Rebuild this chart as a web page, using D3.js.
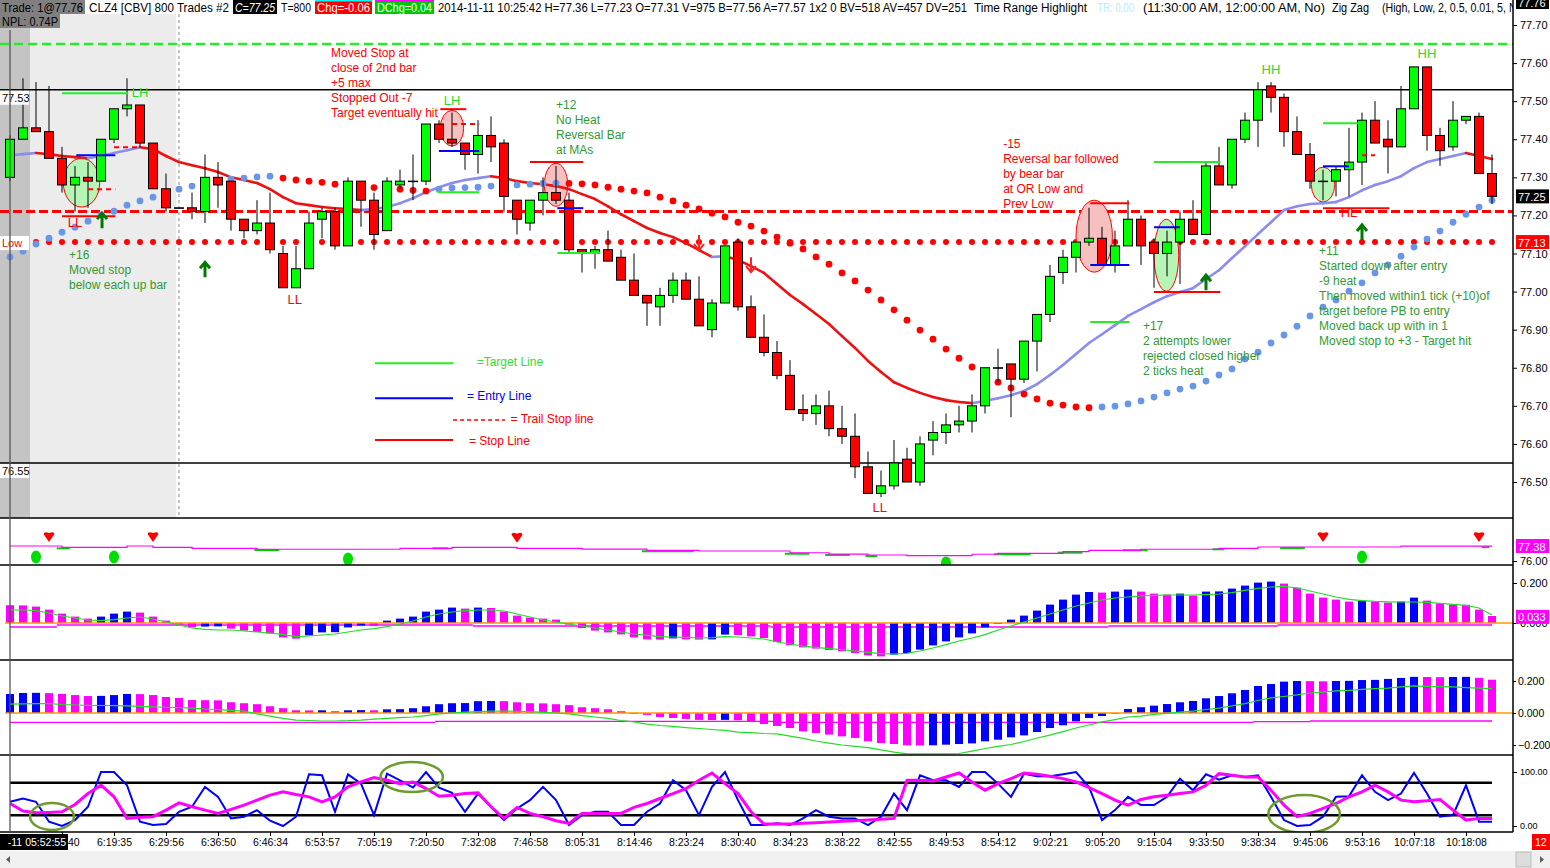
<!DOCTYPE html>
<html>
<head>
<meta charset="utf-8">
<script src="https://cdnjs.cloudflare.com/ajax/libs/d3/7.8.5/d3.min.js"></script>
<style>
  body { margin: 0; background: #ffffff; overflow: hidden; }
  svg text { font-family: "Liberation Sans", Arial, sans-serif; }
</style>
</head>
<body>
<div id="vis"></div>
<script>
// CLZ4, barras de 800 trades
const opens = [77.30,77.40,77.43,77.42,77.35,77.28,77.30,77.29,77.40,77.48,77.49,77.39,77.27,77.22,77.22,77.21,77.30,77.29,77.19,77.16,
  77.18,77.10,77.01,77.06,77.19,77.21,77.12,77.29,77.24,77.16,77.28,77.29,77.29,77.44,77.40,77.39,77.36,77.41,77.39,77.24,
  77.18,77.24,77.26,77.24,77.11,77.10,77.11,77.09,77.03,76.99,76.96,76.99,77.03,76.98,76.90,76.97,77.13,76.96,76.88,76.84,
  76.78,76.69,76.68,76.70,76.64,76.62,76.54,76.47,76.49,76.56,76.50,76.61,76.63,76.65,76.66,76.70,76.80,76.81,76.77,76.87,
  76.94,77.05,77.09,77.13,77.14,77.07,77.12,77.19,77.13,77.10,77.13,77.19,77.15,77.33,77.28,77.40,77.45,77.54,77.51,77.42,
  77.36,77.29,77.29,77.32,77.34,77.45,77.40,77.38,77.48,77.59,77.41,77.38,77.45,77.46,77.31];
const highs = [77.41,77.56,77.55,77.54,77.38,77.33,77.34,77.40,77.48,77.56,77.49,77.39,77.31,77.22,77.26,77.36,77.34,77.29,77.19,77.24,
  77.26,77.12,77.12,77.21,77.22,77.22,77.30,77.29,77.26,77.30,77.32,77.36,77.44,77.45,77.47,77.39,77.45,77.46,77.40,77.24,
  77.24,77.30,77.33,77.26,77.11,77.12,77.16,77.11,77.10,76.99,77.01,77.05,77.05,77.04,76.98,77.12,77.14,76.99,76.94,76.87,
  76.82,76.73,76.73,76.74,76.70,76.68,76.58,76.53,76.61,76.59,76.62,76.66,76.68,76.70,76.73,76.80,76.85,76.81,76.87,76.94,
  77.07,77.11,77.13,77.22,77.17,77.16,77.24,77.20,77.14,77.16,77.21,77.24,77.34,77.38,77.40,77.47,77.55,77.55,77.52,77.46,
  77.39,77.32,77.33,77.43,77.47,77.50,77.45,77.54,77.59,77.59,77.43,77.50,77.46,77.47,77.36];
const lows = [77.29,77.40,77.42,77.35,77.26,77.21,77.22,77.29,77.39,77.46,77.38,77.27,77.21,77.22,77.19,77.18,77.22,77.16,77.14,77.15,
  77.10,77.01,77.01,77.06,77.14,77.11,77.12,77.17,77.11,77.16,77.27,77.24,77.28,77.39,77.38,77.32,77.31,77.34,77.21,77.15,
  77.16,77.20,77.23,77.10,77.05,77.06,77.08,77.03,76.99,76.91,76.91,76.97,76.98,76.91,76.88,76.97,76.95,76.88,76.83,76.77,
  76.69,76.66,76.65,76.62,76.60,76.51,76.47,76.46,76.48,76.50,76.49,76.57,76.60,76.63,76.63,76.68,76.76,76.67,76.76,76.79,
  76.92,77.02,77.05,77.12,77.07,77.05,77.12,77.07,77.01,77.04,77.02,77.15,77.15,77.28,77.27,77.39,77.38,77.47,77.38,77.36,
  77.27,77.24,77.25,77.25,77.28,77.39,77.31,77.38,77.48,77.37,77.33,77.37,77.44,77.31,77.23];
const closes = [77.40,77.43,77.42,77.35,77.28,77.30,77.29,77.40,77.48,77.49,77.39,77.27,77.22,77.22,77.21,77.30,77.28,77.19,77.16,77.18,
  77.11,77.01,77.06,77.18,77.21,77.12,77.29,77.24,77.15,77.29,77.29,77.29,77.44,77.40,77.39,77.36,77.41,77.38,77.25,77.19,
  77.24,77.26,77.24,77.11,77.10,77.11,77.08,77.03,76.99,76.97,76.99,77.03,76.98,76.91,76.97,77.12,76.96,76.88,76.84,76.78,
  76.69,76.68,76.70,76.64,76.62,76.54,76.47,76.49,76.55,76.50,76.60,76.63,76.65,76.66,76.70,76.80,76.80,76.77,76.87,76.94,
  77.04,77.09,77.13,77.14,77.07,77.12,77.19,77.12,77.10,77.13,77.19,77.15,77.33,77.28,77.40,77.45,77.53,77.51,77.42,77.36,
  77.29,77.29,77.32,77.34,77.45,77.39,77.38,77.48,77.59,77.41,77.37,77.45,77.46,77.31,77.25];

// Media movil (rojo cuando baja, lila cuando sube)
const maLine = [77.358,77.361,77.364,77.361,77.356,77.353,77.350,77.356,77.364,77.371,77.379,77.374,77.356,77.340,77.332,77.324,77.314,77.300,77.293,77.285,
  77.269,77.248,77.232,77.227,77.222,77.219,77.217,77.214,77.217,77.222,77.232,77.245,77.261,77.274,77.285,77.293,77.298,77.303,77.298,77.290,
  77.285,77.282,77.277,77.269,77.256,77.243,77.224,77.203,77.185,77.167,77.154,77.143,77.127,77.109,77.091,77.093,77.083,77.067,77.049,77.020,
  76.991,76.967,76.941,76.915,76.883,76.852,76.818,76.789,76.762,76.747,76.734,76.723,76.715,76.710,76.707,76.713,76.720,76.728,76.739,76.757,
  76.781,76.807,76.836,76.865,76.888,76.912,76.936,76.954,76.972,76.988,76.999,77.009,77.033,77.056,77.088,77.119,77.151,77.182,77.214,77.224,
  77.230,77.232,77.235,77.248,77.266,77.280,77.290,77.303,77.324,77.340,77.348,77.356,77.364,77.356,77.348];

// Linea punteada (rojo cuando baja, azul cuando sube)
const dotLine = [77.091,77.106,77.125,77.140,77.156,77.169,77.185,77.201,77.211,77.227,77.238,77.248,77.259,77.269,77.277,77.285,77.287,77.295,77.298,77.301,
  77.303,77.298,77.293,77.290,77.287,77.282,77.280,77.274,77.273,77.272,77.269,77.266,77.264,77.269,77.272,77.273,77.274,77.277,77.278,77.280,
  77.282,77.284,77.285,77.284,77.283,77.280,77.274,77.269,77.264,77.259,77.248,77.238,77.227,77.217,77.206,77.196,77.182,77.172,77.159,77.143,
  77.127,77.112,77.091,77.072,77.049,77.028,77.004,76.978,76.952,76.925,76.899,76.875,76.849,76.825,76.802,76.781,76.762,76.747,76.731,76.718,
  76.707,76.702,76.697,76.695,76.697,76.699,76.705,76.713,76.723,76.734,76.744,76.752,76.765,76.781,76.797,76.823,76.841,76.865,76.886,76.909,
  76.936,76.959,76.978,77.001,77.023,77.049,77.070,77.093,77.117,77.138,77.159,77.182,77.203,77.222,77.240];

// Niveles horizontales
const LEVEL_TARGET = 77.65;
const LEVEL_OR_HIGH = 77.53;
const LEVEL_TRAIL = 77.21;
const LEVEL_LOW = 77.13;
const LEVEL_OR_LOW = 76.55;

// Panel 1
const p1Line = [77.38,77.38,77.38,77.38,77.26,77.26,77.26,77.26,77.26,77.38,77.38,77.26,77.26,77.26,77.17,77.17,77.17,77.17,77.17,77.08,
  77.08,77.08,77.08,77.08,77.08,77.08,77.08,77.08,77.08,77.08,77.17,77.17,77.17,77.17,77.26,77.26,77.26,77.26,77.26,77.17,
  77.17,77.17,77.17,77.17,77.10,77.10,77.10,77.10,77.10,76.98,76.98,76.98,76.98,76.92,76.92,76.92,76.92,76.92,76.92,76.92,
  76.76,76.76,76.76,76.64,76.64,76.64,76.55,76.55,76.55,76.49,76.49,76.49,76.49,76.49,76.62,76.62,76.71,76.71,76.71,76.71,
  76.71,76.86,76.86,76.98,76.98,76.98,76.98,77.08,77.08,77.08,77.08,77.08,77.08,77.17,77.17,77.17,77.29,77.29,77.29,77.29,
  77.29,77.29,77.29,77.29,77.29,77.29,77.29,77.36,77.36,77.36,77.36,77.36,77.36,77.36,77.36];
const p1Green = [[3.6,4.6,77.26],[18.8,20.7,77.10],[32.5,33.7,77.26],[48.6,52.6,76.98],[59.6,61.5,76.76],[62.7,64.6,76.64],
  [65.8,66.7,76.55],[75.7,78.5,76.71],[80.6,82.5,76.86],[85.6,87.5,77.08],[92.5,93.4,77.17],[97.7,99.6,77.29],[113.2,113.8,77.36]];
const p1Sell = [[3,78.21],[11,78.21],[39,78.15],[101,78.21],[113,78.21]];
const p1Buy = [[2,76.37],[8,76.37],[26,76.18],[72,75.82],[104,76.37]];

// Panel 2 (histograma + senal)
const p2Hist = [0.089,0.088,0.082,0.067,0.047,0.032,0.022,0.032,0.047,0.057,0.052,0.032,0.012,-0.008,-0.022,-0.018,-0.017,-0.028,-0.038,-0.045,
  -0.053,-0.072,-0.078,-0.062,-0.047,-0.046,-0.022,-0.013,-0.015,0.012,0.022,0.032,0.057,0.067,0.077,0.072,0.077,0.075,0.057,0.037,
  0.027,0.022,0.017,-0.008,-0.025,-0.038,-0.047,-0.057,-0.072,-0.082,-0.083,-0.077,-0.082,-0.083,-0.082,-0.058,-0.060,-0.067,-0.075,-0.095,
  -0.112,-0.122,-0.128,-0.135,-0.142,-0.150,-0.162,-0.167,-0.158,-0.150,-0.133,-0.112,-0.092,-0.072,-0.052,-0.022,-0.005,0.017,0.037,0.062,
  0.092,0.117,0.142,0.155,0.152,0.157,0.167,0.157,0.147,0.142,0.147,0.137,0.157,0.158,0.172,0.187,0.202,0.207,0.197,0.177,
  0.147,0.127,0.117,0.107,0.112,0.107,0.102,0.107,0.127,0.112,0.097,0.092,0.091,0.067,0.035];
const p2Signal = [0.065,0.065,0.062,0.050,0.035,0.025,0.015,0.012,0.017,0.025,0.030,0.020,0.005,-0.010,-0.025,-0.032,-0.035,-0.035,-0.040,-0.045,
  -0.050,-0.058,-0.068,-0.065,-0.060,-0.055,-0.045,-0.035,-0.028,-0.018,-0.005,0.010,0.030,0.045,0.055,0.062,0.065,0.065,0.060,0.045,
  0.030,0.015,0.005,-0.005,-0.015,-0.025,-0.035,-0.045,-0.055,-0.062,-0.068,-0.070,-0.072,-0.075,-0.073,-0.068,-0.070,-0.075,-0.080,-0.095,
  -0.105,-0.115,-0.122,-0.128,-0.133,-0.140,-0.147,-0.153,-0.155,-0.152,-0.140,-0.125,-0.108,-0.090,-0.075,-0.058,-0.035,-0.015,0.005,0.025,
  0.045,0.065,0.085,0.100,0.115,0.125,0.130,0.135,0.138,0.140,0.140,0.140,0.142,0.145,0.152,0.163,0.173,0.180,0.183,0.175,
  0.160,0.145,0.130,0.118,0.112,0.108,0.106,0.105,0.105,0.103,0.098,0.093,0.088,0.075,0.040];
const p2Level = [[0,3.6,-0.020],[3.6,35.6,-0.010],[35.6,58.5,-0.015],[58.5,84.5,-0.020],[84.5,97.5,-0.015],[97.5,114,-0.010]];

// Panel 3 (histograma + senal)
const p3Hist = [0.119,0.125,0.126,0.124,0.119,0.112,0.106,0.107,0.112,0.119,0.118,0.112,0.100,0.094,0.081,0.080,0.079,0.067,0.061,0.055,
  0.042,0.030,0.017,0.016,0.017,0.011,0.017,0.018,0.017,0.023,0.024,0.030,0.042,0.055,0.061,0.062,0.074,0.075,0.074,0.067,
  0.061,0.060,0.055,0.049,0.036,0.030,0.023,0.011,-0.006,-0.012,-0.025,-0.031,-0.037,-0.043,-0.044,-0.043,-0.045,-0.056,-0.069,-0.081,
  -0.094,-0.115,-0.125,-0.135,-0.146,-0.156,-0.177,-0.188,-0.194,-0.202,-0.203,-0.202,-0.198,-0.194,-0.190,-0.177,-0.167,-0.152,-0.140,-0.119,
  -0.094,-0.077,-0.052,-0.031,-0.019,-0.004,0.025,0.036,0.046,0.056,0.067,0.075,0.092,0.106,0.123,0.144,0.169,0.181,0.196,0.200,
  0.199,0.198,0.200,0.201,0.206,0.207,0.213,0.219,0.226,0.225,0.224,0.225,0.226,0.220,0.208];
const p3Signal = [0.056,0.057,0.059,0.058,0.053,0.050,0.048,0.047,0.046,0.044,0.042,0.038,0.036,0.033,0.031,0.025,0.021,0.017,0.012,-0.006,
  -0.019,-0.034,-0.044,-0.047,-0.050,-0.050,-0.048,-0.044,-0.038,-0.034,-0.029,-0.025,-0.016,-0.006,0.000,0.006,0.009,0.012,0.012,0.011,
  0.009,0.004,0.000,-0.006,-0.016,-0.025,-0.034,-0.047,-0.056,-0.069,-0.078,-0.084,-0.091,-0.097,-0.103,-0.109,-0.119,-0.123,-0.128,-0.131,
  -0.144,-0.159,-0.175,-0.188,-0.200,-0.208,-0.216,-0.231,-0.244,-0.256,-0.256,-0.256,-0.256,-0.253,-0.238,-0.222,-0.209,-0.197,-0.178,-0.156,
  -0.138,-0.116,-0.094,-0.075,-0.056,-0.041,-0.025,-0.019,-0.009,-0.002,0.006,0.012,0.022,0.031,0.044,0.059,0.078,0.094,0.103,0.113,
  0.125,0.131,0.138,0.142,0.148,0.152,0.156,0.163,0.169,0.167,0.165,0.163,0.159,0.156,0.152];
const p3Level = [[0,32.7,-0.058],[32.7,59.2,-0.052],[59.2,95.6,-0.058],[95.6,100,-0.054],[100,114,-0.050]];

// Panel 4 (estocastico)
const stochK = [44.8,50.9,44.8,8.0,0,11.0,35.6,100,100,75.5,8.0,1.8,3.7,26.4,35.6,72.4,54.0,14.1,17.2,29.4,
  9.8,0,17.2,95.7,93.9,26.4,95.7,78.5,20.2,96.9,84.7,71.2,100,71.2,61.3,26.4,60.1,35.6,11.0,32.5,
  47.9,72.4,47.9,1.8,20.2,26.4,26.4,1.8,1.8,26.4,41.7,84.7,66.3,20.2,72.4,100,47.9,1.8,1.8,4.9,
  1.8,14.1,29.4,17.2,14.1,14.1,1.8,17.2,60.1,29.4,93.9,84.7,84.7,72.4,100,100,78.5,54.0,96.9,92.0,
  92.0,95.7,100,72.4,11.0,29.4,54.0,38.7,38.7,54.0,87.7,66.3,95.7,85.9,93.9,90.8,93.9,54.0,11.0,0,
  1.8,17.2,54.0,55.2,93.9,63.2,47.9,60.1,98.2,60.1,17.2,20.2,75.5,8.0,8.0];
const stochD = [41.7,27.6,24.5,25.2,26.4,39.9,60.1,75.5,54.0,14.1,16.0,17.2,29.4,42.9,35.6,29.4,23.3,30.7,38.7,47.9,
  57.1,63.2,58.3,54.0,44.8,54.0,72.4,81.6,89.6,84.7,78.5,81.6,69.3,55.2,57.1,60.1,61.3,35.6,14.1,34.4,
  23.3,17.2,9.8,4.9,23.3,23.3,23.3,23.3,34.4,41.7,50.9,60.1,69.3,84.7,98.2,78.5,60.1,26.4,3.7,3.7,
  3.7,4.9,6.1,7.4,8.6,9.8,11.0,12.3,14.1,84.7,84.7,83.4,90.8,98.2,81.6,66.3,78.5,87.7,98.2,95.7,
  92.0,87.7,81.6,71.2,60.1,47.9,38.7,49.1,54.0,57.1,60.1,63.2,75.5,96.9,93.9,90.8,90.8,66.3,38.7,17.2,
  23.3,32.5,41.7,54.0,63.2,75.5,63.2,47.9,44.8,46.6,49.1,29.4,11.0,14.1,14.1];
const STOCH_HIGH = 80, STOCH_LOW = 20;
const stochOvals = [[1.54,4.92,42.6,-7.4],[28.5,33.3,118.5,63.0],[96.8,102.3,57.4,-13.0]];

// Lineas de los trades
const targetLines = [[4,9.1,77.521],[32.9,36.1,77.261],[42.1,45.4,77.101],[83.1,86.1,76.920],[88,93.1,77.340],[101,103.7,77.442]];
const entryLines = [[5.1,8.1,77.358],[33,36.1,77.369],[42.1,44.1,77.219],[83.1,86.1,77.070],[88,90,77.169],[101,103,77.329]];
const stopLines = [[4,8.1,77.198],[33.1,35.1,77.479],[40,44.1,77.340],[83.1,86.1,77.232],[88,93.1,76.999],[101,106.1,77.219]];
const trailLines = [[6,8.1,77.269],[8,10,77.379],[34,36.1,77.440],[104,105,77.358]];
const tradeOvals = [[4.1,6.9,77.350,77.222,"win"],[33.1,34.9,77.476,77.382,"loss"],[41.1,42.9,77.337,77.224,"loss"],
  [82,84.8,77.240,77.051,"loss"],[88,89.9,77.190,77.001,"win"],[100.1,101.9,77.327,77.235,"win"]];
const upArrows = [[7.08,77.206],[15,77.077],[92,77.043],[104,77.175]];
const downArrows = [[53,77.109],[57,77.051]];
const swingLabels = [["LH",10,77.51,"hi"],["LL",5,77.169,"lo"],["LL",21.9,76.967,"lo"],["LH",34,77.49,"hi"],
  ["LL",66.9,76.421,"lo"],["HH",97,77.571,"hi"],["HH",109,77.613,"hi"],["HL",103,77.196,"lo"]];

const notes = [
  {i: 24.7, p: 77.615, color: "red", lines: ["Moved Stop at", "close of 2nd bar", "+5 max", "Stopped Out -7", "Target eventually hit"]},
  {i: 4.54, p: 77.085, color: "green", lines: ["+16", "Moved stop", "below each up bar"]},
  {i: 42, p: 77.479, color: "green", lines: ["+12", "No Heat", "Reversal Bar", "at MAs"]},
  {i: 76.4, p: 77.377, color: "red", lines: ["-15", "Reversal bar followed", "by bear bar", "at OR Low and", "Prev Low"]},
  {i: 87.15, p: 76.899, color: "green", lines: ["+17", "2 attempts lower", "rejected closed higher", "2 ticks heat"]},
  {i: 100.7, p: 77.096, color: "green", lines: ["+11", "Started down after entry", "-9 heat", "Then moved within1 tick (+10)of",
    "target before PB to entry", "Moved back up with in 1", "Moved stop to +3 - Target hit"]}
];
const legendItems = [
  {kind: "target", i1: 28.08, i2: 34.08, p: 76.812, ti: 35.9, tp: 76.805, label: "=Target Line"},
  {kind: "entry", i1: 28.08, i2: 34.08, p: 76.720, ti: 35.15, tp: 76.716, label: "= Entry Line"},
  {kind: "trail", i1: 34.08, i2: 38.08, p: 76.663, ti: 38.5, tp: 76.655, label: "= Trail Stop line"},
  {kind: "stop", i1: 28.08, i2: 34.08, p: 76.610, ti: 35.3, tp: 76.597, label: "= Stop Line"}
];

// Ejes
const priceTicks = [76.50,76.60,76.70,76.80,76.90,77.00,77.10,77.20,77.30,77.40,77.50,77.60,77.70];
const timeTickBars = [4,8,12,16,20,24,28,32,36,40,44,48,52,56,60,64,68,72,76,80,84,88,92,96,100,104,108,112];
const timeLabels = ["6:11:40","6:19:35","6:29:56","6:36:50","6:46:34","6:53:57","7:05:19","7:20:50","7:32:08","7:46:58",
  "8:05:31","8:14:46","8:23:24","8:30:40","8:34:23","8:38:22","8:42:55","8:49:53","8:54:12","9:02:21",
  "9:05:20","9:15:04","9:33:50","9:38:34","9:45:06","9:53:16","10:07:18","10:18:08"];

const headerRow1 = [
  {x: 0, w: 85, bg: "#808080", text: "Trade: 1@77.76"},
  {x: 87, w: 144, text: "CLZ4 [CBV]  800 Trades  #2"},
  {x: 233, w: 44, bg: "#000000", color: "#ffffff", italic: true, text: "C=77.25"},
  {x: 279, w: 34, text: "T=800"},
  {x: 315, w: 57, bg: "#ff0000", color: "#ffffff", top: "#00ffff", text: "Chg=-0.06"},
  {x: 375, w: 59, bg: "#00c800", color: "#ffffff", top: "#ff00ff", text: "DChg=0.04"},
  {x: 436, w: 533, text: "2014-11-11 10:25:42 H=77.36 L=77.23 O=77.31 V=975 B=77.56 A=77.57 1x2 0 BV=518 AV=457 DV=251"},
  {x: 972, w: 117, text: "Time Range Highlight"},
  {x: 1095, w: 41, color: "#b8ecff", text: "TR: 0.00"},
  {x: 1141, w: 186, text: "(11:30:00 AM, 12:00:00 AM, No)"},
  {x: 1330, w: 41, text: "Zig Zag"},
  {x: 1380, w: 148, text: "(High, Low, 2, 0.5, 0.01, 5, No)"}
];

const WIDTH = 1550;
const HEIGHT = 868;
const AXIS_X = 1513;
const UP = "#00ff00", DOWN = "#ff0000";
const TXT_GREEN = "#339933", LIME = "#22dd22";
const MAGENTA = "#ff00ff", BLUE = "#0000ff";

const SVG = d3.select("#vis").append("svg").attr("width", WIDTH).attr("height", HEIGHT);

const x = d3.scaleLinear().domain([0, 114]).range([10, 1492]);
const yMain = d3.scaleLinear().domain([76.5, 77.7]).range([482, 25]);
const y1 = d3.scaleLinear().domain([76.0, 77.38]).range([561, 546]);
const y2 = d3.scaleLinear().domain([0, 0.2]).range([623, 583]);
const y3 = d3.scaleLinear().domain([0, 0.2]).range([713, 681]);
const y4 = d3.scaleLinear().domain([0, 100]).range([826, 772]);

const PANELS = [["main", 0, 518], ["p1", 518, 565], ["p2", 565, 660], ["p3", 660, 755], ["p4", 755, 832]];
const defs = SVG.append("defs");
PANELS.forEach(([id, top, bottom]) => {
  defs.append("clipPath").attr("id", "clip-" + id)
    .append("rect").attr("x", 0).attr("y", top).attr("width", AXIS_X).attr("height", bottom - top);
});
defs.append("clipPath").attr("id", "clip-head")
  .append("rect").attr("x", 0).attr("y", 0).attr("width", AXIS_X).attr("height", 30);

const isUp = (vals, i) => i === 0 ? vals[1] > vals[0] : vals[i] > vals[i - 1];

function crearPanelPrincipal() {
  const g = SVG.append("g").attr("clip-path", "url(#clip-main)");

  // Time range highlight
  g.append("rect").attr("x", 0).attr("y", 14).attr("width", 30).attr("height", 504).attr("fill", "#c4c4c4");
  g.append("rect").attr("x", 30).attr("y", 14).attr("width", 146).attr("height", 504).attr("fill", "#ececec");
  g.append("line").attr("x1", 179).attr("x2", 179).attr("y1", 14).attr("y2", 518)
    .attr("stroke", "#888").attr("stroke-dasharray", "3,3");

  // niveles
  g.append("line").attr("x1", 0).attr("x2", AXIS_X).attr("y1", yMain(LEVEL_TARGET)).attr("y2", yMain(LEVEL_TARGET))
    .attr("stroke", "#22ee22").attr("stroke-width", 2.5).attr("stroke-dasharray", "9,5");
  g.append("line").attr("x1", 0).attr("x2", AXIS_X).attr("y1", yMain(LEVEL_OR_HIGH)).attr("y2", yMain(LEVEL_OR_HIGH))
    .attr("stroke", "#000").attr("stroke-width", 1.5);
  g.append("line").attr("x1", 0).attr("x2", AXIS_X).attr("y1", yMain(LEVEL_OR_LOW)).attr("y2", yMain(LEVEL_OR_LOW))
    .attr("stroke", "#000").attr("stroke-width", 1.5);
  g.append("line").attr("x1", 0).attr("x2", AXIS_X).attr("y1", yMain(LEVEL_TRAIL)).attr("y2", yMain(LEVEL_TRAIL))
    .attr("stroke", "#ff0000").attr("stroke-width", 3).attr("stroke-dasharray", "9,4");
  g.selectAll("circle.low").data(d3.range(2, 115)).join("circle").attr("class", "low")
    .attr("cx", d => x(d)).attr("cy", yMain(LEVEL_LOW)).attr("r", 3).attr("fill", "#ff0000");

  // ovalos de los trades
  g.selectAll("ellipse.trade").data(tradeOvals).join("ellipse").attr("class", "trade")
    .attr("cx", d => (x(d[0]) + x(d[1])) / 2).attr("cy", d => (yMain(d[2]) + yMain(d[3])) / 2)
    .attr("rx", d => (x(d[1]) - x(d[0])) / 2).attr("ry", d => (yMain(d[3]) - yMain(d[2])) / 2)
    .attr("fill", d => d[4] === "win" ? "#b6f5b6" : "#f7c0c0").attr("stroke", "#ff0000").attr("stroke-width", 1);

  // media movil por segmentos
  g.selectAll("line.ma").data(d3.pairs(d3.range(maLine.length))).join("line").attr("class", "ma")
    .attr("x1", d => x(d[0])).attr("y1", d => yMain(maLine[d[0]]))
    .attr("x2", d => x(d[1])).attr("y2", d => yMain(maLine[d[1]]))
    .attr("stroke", d => maLine[d[1]] < maLine[d[0]] ? "#ee1111" : "#8c8cf0")
    .attr("stroke-width", 2.6).attr("stroke-linecap", "round");

  // puntos
  g.selectAll("circle.dot").data(dotLine).join("circle").attr("class", "dot")
    .attr("cx", (d, i) => x(i)).attr("cy", d => yMain(d)).attr("r", 3.4)
    .attr("fill", (d, i) => isUp(dotLine, i) ? "#6a96e8" : "#ff0000");

  // velas
  const bars = opens.map((o, i) => ({i, o, h: highs[i], l: lows[i], c: closes[i]}));
  g.selectAll("g.candle").data(bars).join(enter => {
    const gc = enter.append("g").attr("class", "candle");
    gc.append("line")
      .attr("x1", d => x(d.i)).attr("x2", d => x(d.i))
      .attr("y1", d => yMain(d.h)).attr("y2", d => yMain(d.l))
      .attr("stroke", "#000").attr("stroke-width", 1);
    gc.append("rect")
      .attr("x", d => x(d.i) - 4.5).attr("width", 9)
      .attr("y", d => yMain(Math.max(d.o, d.c)))
      .attr("height", d => Math.max(0.5, Math.abs(yMain(d.o) - yMain(d.c))))
      .attr("fill", d => d.c > d.o ? UP : d.c < d.o ? DOWN : "#000")
      .attr("stroke", "#000").attr("stroke-width", 1);
    return gc;
  });

  // lineas de trade
  const seg = (cls, data, color, dash, width) => g.selectAll("line." + cls).data(data).join("line").attr("class", cls)
    .attr("x1", d => x(d[0])).attr("x2", d => x(d[1])).attr("y1", d => yMain(d[2])).attr("y2", d => yMain(d[2]))
    .attr("stroke", color).attr("stroke-width", width).attr("stroke-dasharray", dash);
  seg("target", targetLines, "#22ee22", null, 2);
  seg("entry", entryLines, "#0000ff", null, 2);
  seg("stop", stopLines, "#ff0000", null, 2);
  seg("trail", trailLines, "#ff0000", "5,4", 2);

  // flechas
  const arrow = (d, up) => {
    const px = x(d[0]), py = yMain(d[1]), s = up ? 1 : -1;
    return `M${px},${py} L${px},${py + s * 15} M${px - 5},${py + s * 6} L${px},${py} L${px + 5},${py + s * 6}`;
  };
  g.selectAll("path.up").data(upArrows).join("path").attr("class", "up")
    .attr("d", d => arrow(d, true)).attr("stroke", "#007a00").attr("stroke-width", 3).attr("fill", "none");
  g.selectAll("path.down").data(downArrows).join("path").attr("class", "down")
    .attr("d", d => arrow(d, false)).attr("stroke", "#ff2020").attr("stroke-width", 2).attr("fill", "none");

  // etiquetas zig zag
  g.selectAll("text.swing").data(swingLabels).join("text").attr("class", "swing")
    .attr("x", d => x(d[1])).attr("y", d => yMain(d[2])).attr("text-anchor", "middle")
    .attr("font-size", 13).attr("fill", d => d[3] === "hi" ? LIME : "#ff0000").text(d => d[0]);

  // notas
  g.selectAll("text.note").data(notes).join(enter => {
    const t = enter.append("text").attr("class", "note")
      .attr("x", d => x(d.i)).attr("y", d => yMain(d.p)).attr("font-size", 12)
      .attr("fill", d => d.color === "red" ? "#ff0000" : TXT_GREEN);
    t.selectAll("tspan").data(d => d.lines.map(l => ({l, xx: x(d.i)}))).join("tspan")
      .attr("x", d => d.xx).attr("dy", (d, k) => k === 0 ? 0 : 15).text(d => d.l);
    return t;
  });

  // leyenda
  const legColor = {target: "#22ee22", entry: "#0000ff", trail: "#ff0000", stop: "#ff0000"};
  const legText = {target: "#33dd33", entry: "#0000ff", trail: "#ff0000", stop: "#ff0000"};
  g.selectAll("line.leg").data(legendItems).join("line").attr("class", "leg")
    .attr("x1", d => x(d.i1)).attr("x2", d => x(d.i2)).attr("y1", d => yMain(d.p)).attr("y2", d => yMain(d.p))
    .attr("stroke", d => legColor[d.kind]).attr("stroke-width", d => d.kind === "trail" ? 1.5 : 2)
    .attr("stroke-dasharray", d => d.kind === "trail" ? "4,3" : null);
  g.selectAll("text.leg").data(legendItems).join("text").attr("class", "leg")
    .attr("x", d => x(d.ti)).attr("y", d => yMain(d.tp)).attr("font-size", 12)
    .attr("fill", d => legText[d.kind]).text(d => d.label);

  // etiquetas a la izquierda
  const leftTag = (p, txt, color, dy) => {
    g.append("rect").attr("x", 0).attr("y", yMain(p) + dy).attr("width", 29).attr("height", 14).attr("fill", "#fff");
    g.append("text").attr("x", 2).attr("y", yMain(p) + dy + 11).attr("font-size", 11).attr("fill", color).text(txt);
  };
  leftTag(LEVEL_OR_HIGH, "77.53", "#000", 1);
  leftTag(LEVEL_LOW, "Low", "#ff0000", -6);
  leftTag(LEVEL_OR_LOW, "76.55", "#000", 1);
}

function crearPanel1() {
  const g = SVG.append("g").attr("clip-path", "url(#clip-p1)");
  const line = d3.line().x((d, i) => x(i)).y(d => y1(d)).curve(d3.curveStepAfter);
  g.selectAll("line.g1").data(p1Green).join("line").attr("class", "g1")
    .attr("x1", d => x(d[0])).attr("x2", d => x(d[1])).attr("y1", d => y1(d[2]) + 1).attr("y2", d => y1(d[2]) + 1)
    .attr("stroke", "#00cc00").attr("stroke-width", 2);
  g.append("path").datum(p1Line).attr("d", line).attr("fill", "none").attr("stroke", MAGENTA).attr("stroke-width", 1.2);
  g.selectAll("path.sell").data(p1Sell).join("path").attr("class", "sell")
    .attr("d", d => { const px = x(d[0]), py = y1(d[1]);
      return `M${px - 5.5},${py - 3} Q${px - 5},${py - 6} ${px},${py - 4} Q${px + 5},${py - 6} ${px + 5.5},${py - 3} L${px},${py + 5} Z`; })
    .attr("fill", "#ff0000");
  g.selectAll("ellipse.buy").data(p1Buy).join("ellipse").attr("class", "buy")
    .attr("cx", d => x(d[0])).attr("cy", d => y1(d[1])).attr("rx", 5).attr("ry", 6.5).attr("fill", "#00dd00");
}

function crearHistograma(id, vals, signal, levels, yScale) {
  const g = SVG.append("g").attr("clip-path", `url(#clip-${id})`);
  g.selectAll("line.lvl").data(levels).join("line").attr("class", "lvl")
    .attr("x1", d => x(d[0])).attr("x2", d => x(d[1])).attr("y1", d => yScale(d[2])).attr("y2", d => yScale(d[2]))
    .attr("stroke", MAGENTA).attr("stroke-width", 1.3);
  g.selectAll("rect.hist").data(vals).join("rect").attr("class", "hist")
    .attr("x", (d, i) => x(i) - 4).attr("width", 8)
    .attr("y", d => Math.min(yScale(d), yScale(0))).attr("height", d => Math.abs(yScale(d) - yScale(0)))
    .attr("fill", (d, i) => isUp(vals, i) ? BLUE : MAGENTA);
  g.append("line").attr("x1", 5).attr("x2", AXIS_X).attr("y1", yScale(0)).attr("y2", yScale(0))
    .attr("stroke", "#ff9900").attr("stroke-width", 1.5);
  g.append("path").datum(signal)
    .attr("d", d3.line().x((d, i) => x(i)).y(d => yScale(d)))
    .attr("fill", "none").attr("stroke", "#22dd22").attr("stroke-width", 1.2);
}

function crearEstocastico() {
  const g = SVG.append("g").attr("clip-path", "url(#clip-p4)");
  [STOCH_HIGH, STOCH_LOW].forEach(v => {
    g.append("line").attr("x1", x(0)).attr("x2", x(114)).attr("y1", y4(v)).attr("y2", y4(v))
      .attr("stroke", "#000").attr("stroke-width", 2.5);
  });
  const line = d3.line().x((d, i) => x(i)).y(d => y4(d));
  g.append("path").datum(stochK).attr("d", line).attr("fill", "none").attr("stroke", BLUE).attr("stroke-width", 2);
  g.append("path").datum(stochD).attr("d", line).attr("fill", "none").attr("stroke", MAGENTA).attr("stroke-width", 3);
  g.selectAll("ellipse.ring").data(stochOvals).join("ellipse").attr("class", "ring")
    .attr("cx", d => (x(d[0]) + x(d[1])) / 2).attr("cy", d => (y4(d[2]) + y4(d[3])) / 2)
    .attr("rx", d => (x(d[1]) - x(d[0])) / 2).attr("ry", d => (y4(d[3]) - y4(d[2])) / 2)
    .attr("fill", "none").attr("stroke", "#6e9b2f").attr("stroke-width", 2.5);
}

function crearEjes() {
  // separadores
  [518, 565, 660, 755, 832].forEach(yy => {
    SVG.append("line").attr("x1", 0).attr("x2", AXIS_X).attr("y1", yy).attr("y2", yy)
      .attr("stroke", "#000").attr("stroke-width", 1.5);
  });
  SVG.append("line").attr("x1", AXIS_X).attr("x2", AXIS_X).attr("y1", 0).attr("y2", 832)
    .attr("stroke", "#000").attr("stroke-width", 1.5);
  SVG.append("line").attr("x1", x(0)).attr("x2", x(0)).attr("y1", 30).attr("y2", 832)
    .attr("stroke", "#555").attr("stroke-width", 1.3);

  const styleAxis = (sel, size) => {
    sel.select(".domain").remove();
    sel.attr("font-family", null).attr("font-size", null);
    sel.selectAll("text").attr("font-size", size).attr("fill", "#000");
    sel.selectAll("line").attr("stroke", "#000");
  };
  SVG.append("g").attr("transform", `translate(${AXIS_X},0)`)
    .call(d3.axisRight(yMain).tickValues(priceTicks).tickFormat(d3.format(".2f")).tickSize(4))
    .call(s => styleAxis(s, 11));
  SVG.append("g").attr("transform", `translate(${AXIS_X},0)`)
    .call(d3.axisRight(y1).tickValues([76.0]).tickFormat(d3.format(".2f")).tickSize(4))
    .call(s => styleAxis(s, 11));
  SVG.append("g").attr("transform", `translate(${AXIS_X},0)`)
    .call(d3.axisRight(y2).tickValues([0, 0.2]).tickFormat(d3.format(".3f")).tickSize(4))
    .call(s => styleAxis(s, 11));
  SVG.append("g").attr("transform", `translate(${AXIS_X},0)`)
    .call(d3.axisRight(y3).tickValues([-0.2, 0, 0.2]).tickFormat(d3.format(".3f")).tickSize(3).tickPadding(2))
    .call(s => styleAxis(s, 10.5));
  SVG.append("g").attr("transform", `translate(${AXIS_X},0)`)
    .call(d3.axisRight(y4).tickValues([0, 100]).tickFormat(d3.format(".2f")).tickSize(4))
    .call(s => styleAxis(s, 9));

  // cajas de valor actual
  const box = (yy, txt, bg) => {
    SVG.append("rect").attr("x", AXIS_X + 3).attr("y", yy - 7).attr("width", 33).attr("height", 14).attr("fill", bg);
    SVG.append("text").attr("x", AXIS_X + 5).attr("y", yy + 4.5).attr("font-size", 11).attr("fill", "#fff").text(txt);
  };
  box(2, "77.76", "#000");
  box(yMain(77.25), "77.25", "#000");
  box(yMain(LEVEL_LOW), "77.13", "#ff0000");
  box(y1(77.38), "77.38", MAGENTA);
  box(y2(0.033) + 0.5, "0.033", MAGENTA);

  // eje de tiempo
  SVG.append("g").attr("transform", "translate(0,832)")
    .call(d3.axisBottom(x).tickValues(timeTickBars).tickFormat((d, k) => timeLabels[k]).tickSize(4))
    .call(s => styleAxis(s, 10.5));
  SVG.append("rect").attr("x", 0).attr("y", 834).attr("width", 68).attr("height", 16).attr("fill", "#000");
  SVG.append("text").attr("x", 66).attr("y", 846).attr("text-anchor", "end").attr("font-size", 10.5)
    .attr("fill", "#fff").text("-11 05:52:55");
  SVG.append("rect").attr("x", 1532).attr("y", 834).attr("width", 18).attr("height", 16).attr("fill", "#ff0000");
  SVG.append("text").attr("x", 1535).attr("y", 846).attr("font-size", 10.5).attr("fill", "#fff").text("12");

  // barra de desplazamiento
  SVG.append("rect").attr("x", 0).attr("y", 851).attr("width", WIDTH).attr("height", 17).attr("fill", "#f0f0f0");
  SVG.append("path").attr("d", "M6,859.5 L10,856 L10,863 Z").attr("fill", "#606060");
  SVG.append("path").attr("d", "M1544,859.5 L1540,856 L1540,863 Z").attr("fill", "#606060");
  SVG.append("rect").attr("x", 1516).attr("y", 852).attr("width", 15).attr("height", 15)
    .attr("fill", "#dcdcdc").attr("stroke", "#bdbdbd");
}

function crearCabecera() {
  const g = SVG.append("g").attr("clip-path", "url(#clip-head)");
  const row = (items, top) => {
    items.forEach(d => {
      if (d.bg) g.append("rect").attr("x", d.x).attr("y", top).attr("width", d.w).attr("height", 14).attr("fill", d.bg);
      if (d.top) g.append("rect").attr("x", d.x).attr("y", top).attr("width", d.w).attr("height", 1.5).attr("fill", d.top);
      g.append("text").attr("x", d.x + 2).attr("y", top + 11.5).attr("font-size", 12)
        .attr("fill", d.color || "#000").attr("font-style", d.italic ? "italic" : null)
        .attr("textLength", d.w - 4).attr("lengthAdjust", "spacingAndGlyphs").text(d.text);
    });
  };
  row(headerRow1, 0);
  row([{x: 0, w: 60, bg: "#808080", text: "NPL: 0.74P"}], 14);
}

function ejecutar() {
  crearPanelPrincipal();
  crearPanel1();
  crearHistograma("p2", p2Hist, p2Signal, p2Level, y2);
  crearHistograma("p3", p3Hist, p3Signal, p3Level, y3);
  crearEstocastico();
  crearEjes();
  crearCabecera();
}

ejecutar();
</script>
</body>
</html>
